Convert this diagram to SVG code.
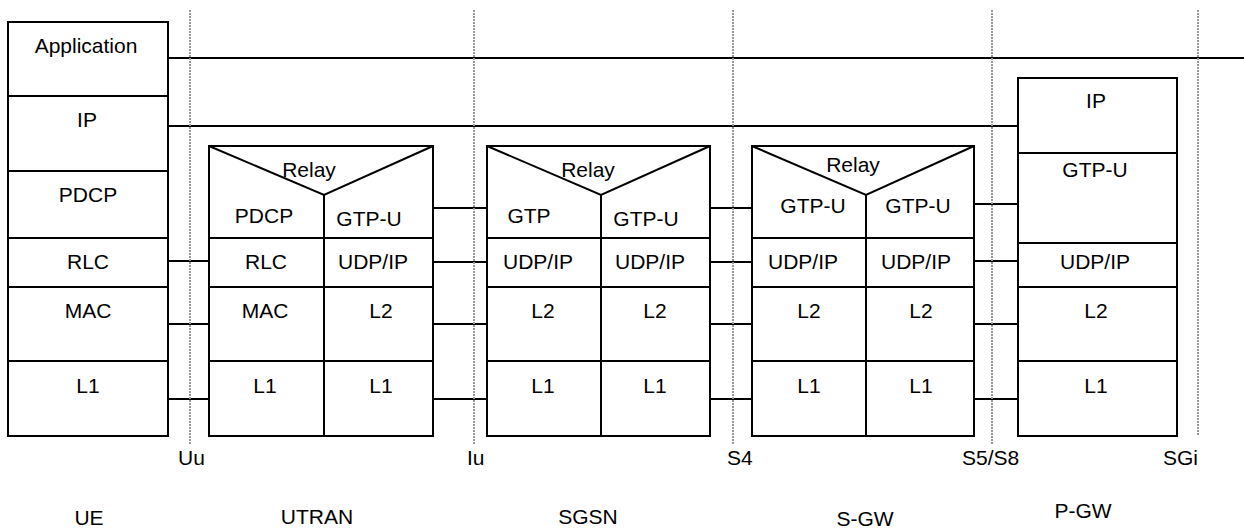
<svg xmlns="http://www.w3.org/2000/svg" width="1244" height="528" viewBox="0 0 1244 528">
<style>
 .b{fill:none;stroke:#000;stroke-width:2}
 .c{fill:none;stroke:#000;stroke-width:2}
 .d{fill:none;stroke:#999;stroke-width:2;stroke-dasharray:2 1}
 text{font-family:"Liberation Sans",Arial,sans-serif;font-size:21px;fill:#000;text-anchor:middle}
 text.s{text-anchor:start}
</style>
<rect width="1244" height="528" fill="#fff"/>

<g id="ue">
 <rect class="b" x="8" y="22" width="160" height="414"/>
 <path class="b" d="M8 96H168M8 171H168M8 238H168M8 287H168M8 361H168"/>
 <text x="86" y="53">Application</text>
 <text x="87" y="127">IP</text>
 <text x="88" y="202">PDCP</text>
 <text x="88" y="269">RLC</text>
 <text x="88" y="318">MAC</text>
 <text x="88" y="393">L1</text>
 <text x="89" y="525">UE</text>
</g>

<g id="utran">
 <rect class="b" x="209" y="146" width="224" height="290"/>
 <path class="b" d="M209 146L324 195L433 146M324 195V436M209 238H433M209 287H433M209 361H433"/>
 <text x="309" y="177">Relay</text>
 <text x="264" y="223">PDCP</text>
 <text x="369" y="226">GTP-U</text>
 <text x="266" y="269">RLC</text>
 <text x="373" y="269">UDP/IP</text>
 <text x="265" y="318">MAC</text>
 <text x="381" y="318">L2</text>
 <text x="265" y="393">L1</text>
 <text x="381" y="393">L1</text>
 <text x="317" y="524">UTRAN</text>
</g>

<g id="sgsn">
 <rect class="b" x="487" y="146" width="223" height="290"/>
 <path class="b" d="M487 146L601 195L710 146M601 195V436M487 238H710M487 287H710M487 361H710"/>
 <text x="588" y="177">Relay</text>
 <text x="529" y="223">GTP</text>
 <text x="646" y="226">GTP-U</text>
 <text x="538" y="269">UDP/IP</text>
 <text x="650" y="269">UDP/IP</text>
 <text x="543" y="318">L2</text>
 <text x="655" y="318">L2</text>
 <text x="543" y="393">L1</text>
 <text x="655" y="393">L1</text>
 <text x="588" y="524">SGSN</text>
</g>

<g id="sgw">
 <rect class="b" x="752" y="146" width="222" height="290"/>
 <path class="b" d="M752 146L866 195L974 146M866 195V436M752 238H974M752 287H974M752 361H974"/>
 <text x="853" y="172">Relay</text>
 <text x="813" y="213">GTP-U</text>
 <text x="918" y="213">GTP-U</text>
 <text x="803" y="269">UDP/IP</text>
 <text x="916" y="269">UDP/IP</text>
 <text x="809" y="318">L2</text>
 <text x="921" y="318">L2</text>
 <text x="809" y="393">L1</text>
 <text x="921" y="393">L1</text>
 <text x="865" y="526">S-GW</text>
</g>

<g id="pgw">
 <rect class="b" x="1018" y="78" width="159" height="358"/>
 <path class="b" d="M1018 153H1177M1018 243H1177M1018 287H1177M1018 361H1177"/>
 <text x="1096" y="108">IP</text>
 <text x="1095" y="177">GTP-U</text>
 <text x="1095" y="269">UDP/IP</text>
 <text x="1096" y="318">L2</text>
 <text x="1096" y="393">L1</text>
 <text x="1083" y="518">P-GW</text>
</g>

<g id="connectors">
 <path class="c" d="M168 58H1244M168 126H1018"/>
 <path class="c" d="M168 261H209M168 324H209M168 399H209"/>
 <path class="c" d="M433 208H487M433 262H487M433 324H487M433 399H487"/>
 <path class="c" d="M710 208H752M710 262H752M710 324H752M710 399H752"/>
 <path class="c" d="M974 204H1018M974 261H1018M974 324H1018M974 399H1018"/>
</g>

<g id="reference-points">
 <path class="d" d="M190 10V444M474 10V444M733 10V444M992 10V445M1198 10V436"/>
 <text class="s" x="178" y="465">Uu</text>
 <text class="s" x="467" y="465">Iu</text>
 <text class="s" x="727" y="465">S4</text>
 <text class="s" x="962" y="465">S5/S8</text>
 <text class="s" x="1163" y="465">SGi</text>
</g>
</svg>
